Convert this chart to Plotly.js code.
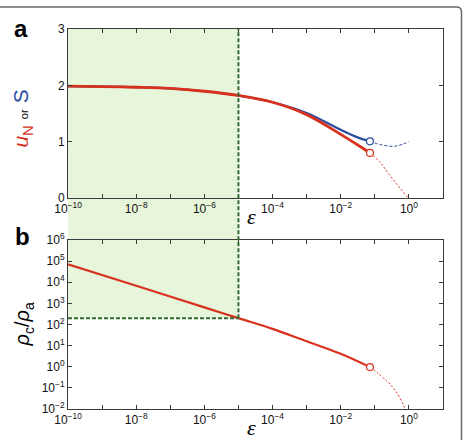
<!DOCTYPE html>
<html>
<head>
<meta charset="utf-8">
<script src="https://cdn.plot.ly/plotly-3.0.1.min.js"></script>
<style>html,body{margin:0;padding:0;background:#fff;}#chart{width:466px;height:440px;}</style>
</head>
<body>
<div id="chart"></div>
<script>
// ---------- data ----------
// panel a: u_N (red) and S (blue) vs epsilon
const epsTop   = [1e-10, 1e-9, 1e-8, 1e-7, 1e-6, 1e-5, 1e-4, 1e-3, 1e-2, 0.03, 0.072];
const uN       = [1.985, 1.978, 1.966, 1.945, 1.895, 1.82, 1.70, 1.48, 1.13, 0.95, 0.80];
const S        = [1.985, 1.978, 1.966, 1.945, 1.895, 1.82, 1.70, 1.51, 1.21, 1.08, 1.006];
const epsUTail = [0.072, 0.14, 0.27, 0.54, 0.93, 1.1];
const uNTail   = [0.80, 0.64, 0.41, 0.18, 0.0, -0.12];
const epsSTail = [0.072, 0.14, 0.34, 0.63, 1.0];
const STail    = [1.006, 0.95, 0.917, 0.95, 1.0];
// panel b: rho_c / rho_a vs epsilon
const epsRho     = [1e-10, 1e-8, 1e-6, 1e-5, 1e-4, 1e-3, 1e-2, 0.072];
const rhoRatio   = [7.0e4, 6.8e3, 650, 200, 62, 16, 4.1, 0.96];
const epsRhoTail = [0.072, 0.22, 0.43, 0.66, 0.76, 0.85];
const rhoTail    = [0.96, 0.22, 0.063, 0.018, 0.01, 0.002];
// critical point (green region corner)
const epsStar = 1e-5;
const rhoStar = 200;
// ticks
const xTickVals = [1e-10,1e-9,1e-8,1e-7,1e-6,1e-5,1e-4,1e-3,1e-2,1e-1,1e0];
const xTickText = ['10<sup>\u221210</sup>','','10<sup>\u22128</sup>','','10<sup>\u22126</sup>','','10<sup>\u22124</sup>','','10<sup>\u22122</sup>','','10<sup>0</sup>'];
const yTopTicks = [0,1,2,3];
const yBotVals = [1e-2,1e-1,1e0,1e1,1e2,1e3,1e4,1e5,1e6];
const yBotText = ['10<sup>\u22122</sup>','10<sup>\u22121</sup>','10<sup>0</sup>','10<sup>1</sup>','10<sup>2</sup>','10<sup>3</sup>','10<sup>4</sup>','10<sup>5</sup>','10<sup>6</sup>'];

// ---------- styling ----------
const RED = '#d8321e', BLUE = '#2c4c9e', GREEN_FILL = '#e7f5db', GREEN_LINE = '#2f6a2f', AX = '#3a3a3a';
const W = 466, H = 440, ML = 68, MR = 23, MT = 29, MB = 31;
const topDom = [0.5553, 1], botDom = [0, 0.4447];
const yLogRange = [-2, 6];
const px2x = p => (p - ML) / (W - ML - MR);
const py2y = p => (H - MB - p) / (H - MT - MB);
const botPaper = v => botDom[0] + (Math.log10(v) - yLogRange[0]) / (yLogRange[1] - yLogRange[0]) * (botDom[1] - botDom[0]);

const font = {family: 'Liberation Sans, Arial, sans-serif', size: 12, color: '#111'};

const traces = [
  {x: epsTop, y: S, xaxis: 'x', yaxis: 'y', mode: 'lines', line: {color: BLUE, width: 2.2, shape: 'spline'}},
  {x: epsSTail, y: STail, xaxis: 'x', yaxis: 'y', mode: 'lines', line: {color: BLUE, width: 1, dash: '3px,2px', shape: 'spline'}},
  {x: epsUTail, y: uNTail, xaxis: 'x', yaxis: 'y', mode: 'lines', line: {color: RED, width: 1, dash: '2px,2px', shape: 'spline'}},
  {x: epsTop, y: uN, xaxis: 'x', yaxis: 'y', mode: 'lines', line: {color: RED, width: 2.8, shape: 'spline'}},
  {x: [epsSTail[0]], y: [STail[0]], xaxis: 'x', yaxis: 'y', mode: 'markers', marker: {symbol: 'circle', size: 7, color: '#fff', line: {color: BLUE, width: 1.2}}},
  {x: [epsUTail[0]], y: [uNTail[0]], xaxis: 'x', yaxis: 'y', mode: 'markers', marker: {symbol: 'circle', size: 7, color: '#fff', line: {color: RED, width: 1.2}}},
  {x: epsRhoTail, y: rhoTail, xaxis: 'x2', yaxis: 'y2', mode: 'lines', line: {color: RED, width: 1, dash: '2px,2px', shape: 'spline'}},
  {x: epsRho, y: rhoRatio, xaxis: 'x2', yaxis: 'y2', mode: 'lines', line: {color: RED, width: 2.2, shape: 'spline'}},
  {x: [epsRhoTail[0]], y: [rhoTail[0]], xaxis: 'x2', yaxis: 'y2', mode: 'markers', marker: {symbol: 'circle', size: 7, color: '#fff', line: {color: RED, width: 1.2}}}
];

const xCommon = {
  type: 'log', range: [-10, 1], tickmode: 'array', tickvals: xTickVals, ticktext: xTickText,
  ticks: 'inside', ticklen: 4, tickwidth: 1, tickcolor: AX, showline: true, linecolor: AX, linewidth: 1,
  mirror: 'ticks', showgrid: false, zeroline: false, tickfont: font
};

const layout = {
  width: W, height: H, margin: {l: ML, r: MR, t: MT, b: MB},
  paper_bgcolor: '#fff', plot_bgcolor: 'rgba(0,0,0,0)', showlegend: false, font: font,
  xaxis: Object.assign({}, xCommon, {anchor: 'y', domain: [0, 1]}),
  xaxis2: Object.assign({}, xCommon, {anchor: 'y2', domain: [0, 1]}),
  yaxis: {domain: topDom, range: [0, 3], tickmode: 'array', tickvals: yTopTicks, ticks: 'inside', ticklen: 4,
          tickcolor: AX, showline: true, linecolor: AX, linewidth: 1, mirror: 'ticks', showgrid: false, zeroline: false, tickfont: font},
  yaxis2: {domain: botDom, type: 'log', range: yLogRange, tickmode: 'array', tickvals: yBotVals, ticktext: yBotText,
           ticks: 'inside', ticklen: 4, tickcolor: AX, showline: true, linecolor: AX, linewidth: 1, mirror: 'ticks',
           showgrid: false, zeroline: false, tickfont: font},
  shapes: [
    // green region spanning both panels
    {type: 'rect', xref: 'x', yref: 'paper', x0: xTickVals[0], x1: epsStar, y0: botPaper(rhoStar), y1: topDom[1],
     fillcolor: GREEN_FILL, line: {width: 0}, layer: 'below'},
    {type: 'line', xref: 'x', yref: 'paper', x0: epsStar, x1: epsStar, y0: botPaper(rhoStar), y1: topDom[1],
     line: {color: GREEN_LINE, width: 2, dash: '4px,2px'}, layer: 'above'},
    {type: 'line', xref: 'x2', yref: 'y2', x0: xTickVals[0], x1: epsStar, y0: rhoStar, y1: rhoStar,
     line: {color: GREEN_LINE, width: 2, dash: '4px,2px'}, layer: 'above'},
    // figure frame (rounded top-right corner)
    {type: 'path', xref: 'paper', yref: 'paper', layer: 'below',
     path: 'M' + px2x(-5) + ',' + py2y(7) + ' L' + px2x(456.5) + ',' + py2y(7) +
           ' Q' + px2x(461.5) + ',' + py2y(7) + ' ' + px2x(461.5) + ',' + py2y(12) +
           ' L' + px2x(461.5) + ',' + py2y(446),
     line: {color: '#6a6a6a', width: 1.5}}
  ],
  annotations: [
    {text: '<b>a</b>', xref: 'paper', yref: 'paper', x: px2x(21), y: py2y(28), xanchor: 'center', yanchor: 'middle',
     showarrow: false, font: {family: 'Liberation Sans, Arial, sans-serif', size: 24, color: '#000'}},
    {text: '<b>b</b>', xref: 'paper', yref: 'paper', x: px2x(22), y: py2y(236), xanchor: 'center', yanchor: 'middle',
     showarrow: false, font: {family: 'Liberation Sans, Arial, sans-serif', size: 24, color: '#000'}},
    {text: '<span style="color:' + RED + '"><i>u</i><sub>N</sub></span><span style="font-size:11px">  or  </span><span style="color:' + BLUE + '">S</span>',
     xref: 'paper', yref: 'y domain', x: 0, y: 0.47, xshift: -46, xanchor: 'center', yanchor: 'middle', textangle: -90,
     showarrow: false, font: {family: 'Liberation Sans, Arial, sans-serif', size: 21, color: '#000'}},
    {text: '<i>\u03C1</i><sub>c</sub>/<i>\u03C1</i><sub>a</sub>',
     xref: 'paper', yref: 'y2 domain', x: 0, y: 0.5, xshift: -44, xanchor: 'center', yanchor: 'middle', textangle: -90,
     showarrow: false, font: {family: 'Liberation Sans, Arial, sans-serif', size: 20, color: '#000'}},
    {text: '<i>\u03B5</i>', xref: 'x domain', yref: 'y domain', x: 0.5, y: 0, xshift: -4, yshift: -19,
     xanchor: 'center', yanchor: 'middle', showarrow: false, font: {family: 'Liberation Serif, Times New Roman, serif', size: 22, color: '#000'}},
    {text: '<i>\u03B5</i>', xref: 'x2 domain', yref: 'y2 domain', x: 0.5, y: 0, xshift: -4, yshift: -18,
     xanchor: 'center', yanchor: 'middle', showarrow: false, font: {family: 'Liberation Serif, Times New Roman, serif', size: 22, color: '#000'}}
  ]
};

Plotly.newPlot('chart', traces, layout, {staticPlot: true, displayModeBar: false});
</script>
</body>
</html>
